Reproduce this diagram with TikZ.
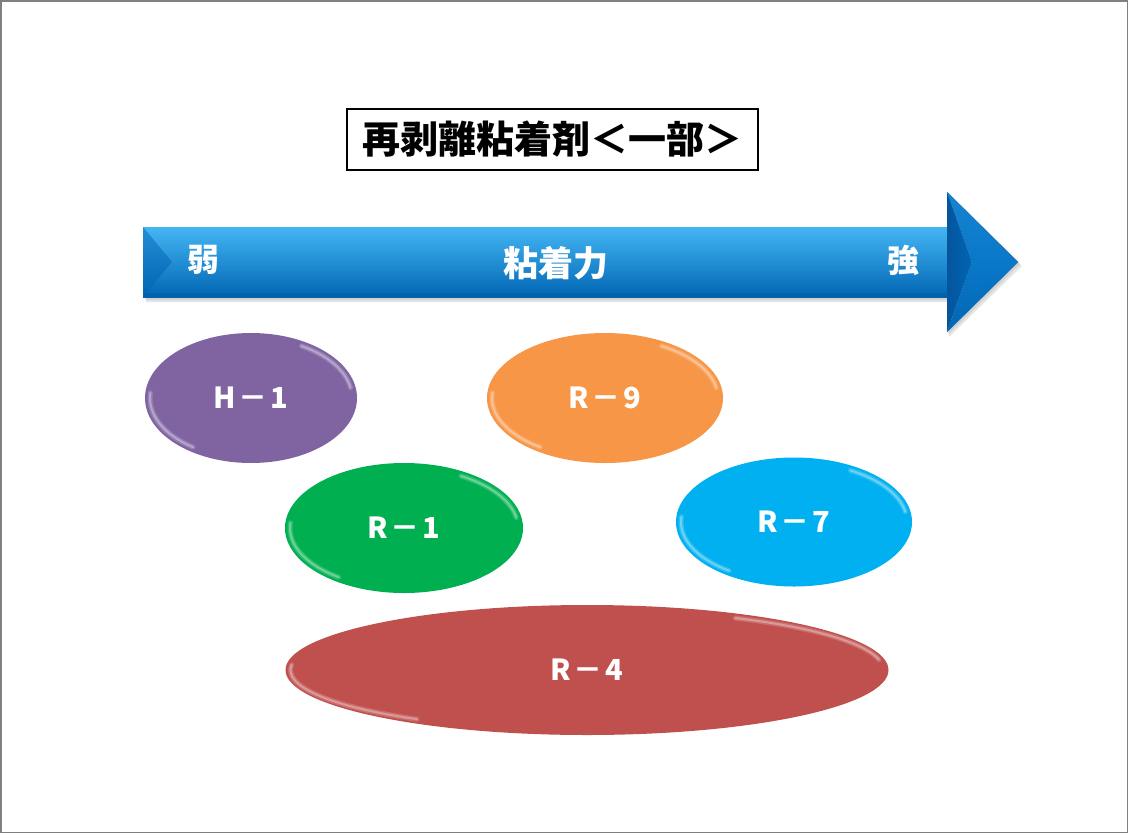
\documentclass[tikz,border=0pt]{standalone}
\usepackage{fontspec}
\newfontfamily\jp{Noto Sans CJK JP}
\usetikzlibrary{shapes.geometric,calc}
\definecolor{purp}{HTML}{8064A2}
\definecolor{grn}{HTML}{00B050}
\definecolor{orng}{HTML}{F79646}
\definecolor{cyn}{HTML}{00B0F0}
\definecolor{redd}{HTML}{C0504D}
\definecolor{arlight}{HTML}{45B6F4}
\definecolor{armid}{HTML}{0A78C8}
\definecolor{ardark}{HTML}{0066B4}
\definecolor{ardeep}{HTML}{04559C}
\newcommand\lblfont{\jp\bfseries\fontsize{29}{31}\selectfont}
\tikzset{
  blob/.style n args={3}{ellipse, inner sep=0pt, minimum width=#1pt, minimum height=#2pt,
    fill=#3, text=white, font=\lblfont,
    path picture={
      \draw[white, opacity=.18, line width=5pt, line cap=round]
        ($(path picture bounding box.center)+(125:{#1/2-5} and {#2/2-5})$)
        arc[start angle=125, end angle=185, x radius={#1/2-5}, y radius={#2/2-5}];
      \draw[white, opacity=.3, line width=2pt, line cap=round]
        ($(path picture bounding box.center)+(125:{#1/2-5} and {#2/2-5})$)
        arc[start angle=125, end angle=185, x radius={#1/2-5}, y radius={#2/2-5}];
      \draw[white, opacity=.18, line width=5pt, line cap=round]
        ($(path picture bounding box.center)+(300:{#1/2-5} and {#2/2-5})$)
        arc[start angle=300, end angle=350, x radius={#1/2-5}, y radius={#2/2-5}];
      \draw[white, opacity=.3, line width=2pt, line cap=round]
        ($(path picture bounding box.center)+(300:{#1/2-5} and {#2/2-5})$)
        arc[start angle=300, end angle=350, x radius={#1/2-5}, y radius={#2/2-5}];
    }},
  artext/.style={text=white, font=\jp\bfseries\fontsize{32}{34}\selectfont, inner sep=0pt}
}
\newcommand\dsh{\kern3pt－\kern3pt}
\begin{document}
\begin{tikzpicture}[x=1pt,y=-1pt]
\useasboundingbox (0,0) rectangle (1128,833);
\fill[white] (0,0) rectangle (1128,833);
\draw[gray, line width=1.5pt] (0.75,0.75) rectangle (1127.25,832.25);

% title
\node[draw=black, line width=1.2pt, minimum width=411pt, minimum height=61pt, inner sep=0pt,
  font=\jp\bfseries\fontsize{38}{40}\selectfont] (title) at (552.5,139.5) {再剥離粘着剤＜一部＞};

% arrow shadow
\fill[black, opacity=.10] (146,231) -- (949,231) -- (949,196) -- (1022,266) -- (949,337) -- (949,302) -- (146,302) -- cycle;
\fill[black, opacity=.08] (145,229) -- (948,229) -- (948,194) -- (1020,264) -- (948,335) -- (948,300) -- (145,300) -- cycle;
% arrow body
\shade[top color=arlight, middle color=armid, bottom color=ardark] (143,227) rectangle (950,297);
\fill[ardark, opacity=.5] (143,227) -- (172,262) -- (143,297) -- cycle;
\fill[ardeep, opacity=.35] (143,293) rectangle (950,297);
% arrow head facets
\shade[top color=armid!80!arlight, bottom color=armid] (947,192) -- (1018,262) -- (972,262) -- cycle;
\shade[top color=armid, bottom color=ardark] (947,332) -- (1018,262) -- (972,262) -- cycle;
\shade[left color=ardeep, right color=ardark] (947,192) -- (972,262) -- (947,332) -- cycle;
\draw[ardeep, opacity=.4, line width=.8pt] (947,192) -- (1018,262) -- (947,332);

\node[artext] (weak) at (203,260) {弱};
\node[artext, font=\jp\bfseries\fontsize{35}{37}\selectfont] (force) at (556,263) {粘着力};
\node[artext] (strong) at (903,260) {強};

% ellipses
\node[blob={212}{130}{purp}] (h1) at (251,398) {H\dsh 1};
\node[blob={236}{130}{orng}] (r9) at (605,398) {R\dsh 9};
\node[blob={238}{130}{grn}] (r1) at (404,528) {R\dsh 1};
\node[blob={236}{129}{cyn}] (r7) at (794,522) {R\dsh 7};
\node[blob={603}{130}{redd}] (r4) at (587,670) {R\dsh 4};
\end{tikzpicture}
\end{document}
